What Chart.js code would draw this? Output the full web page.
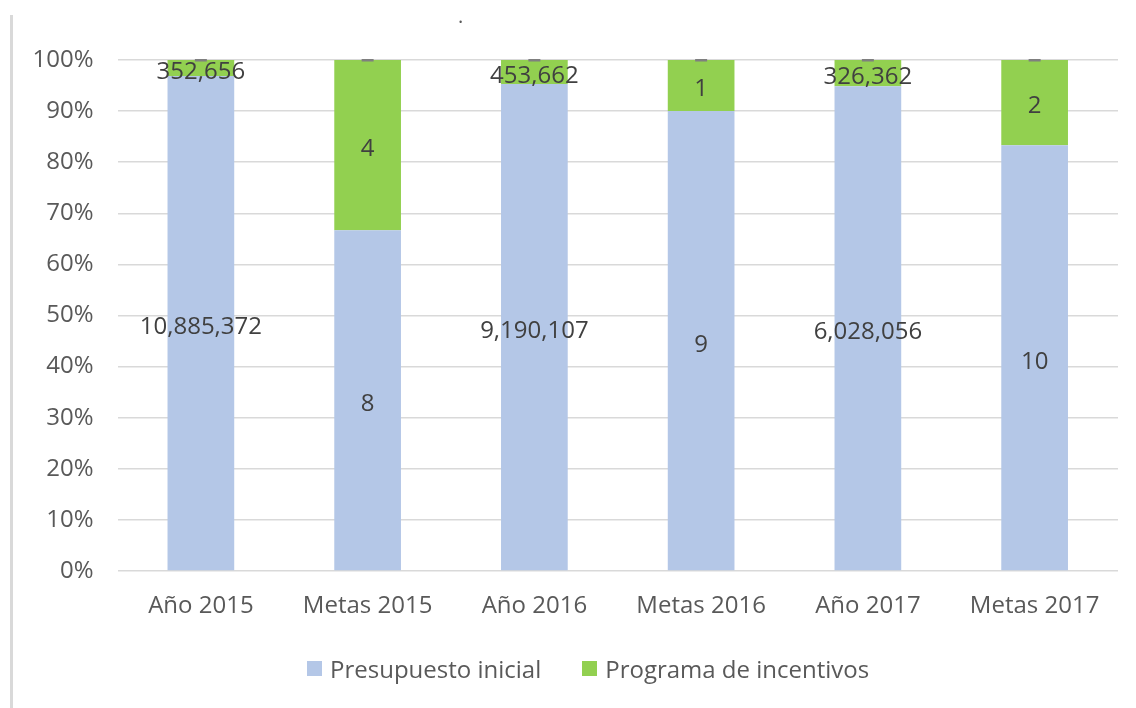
<!DOCTYPE html>
<html>
<head>
<meta charset="utf-8">
<script src="https://cdn.jsdelivr.net/npm/chart.js@4"></script>
<style>
  html, body { margin: 0; padding: 0; background: #fff; }
  #wrap { position: relative; width: 1136px; height: 708px; overflow: hidden; }
  #edge { position: absolute; left: 10px; top: 15px; width: 3px; height: 693px; background: #d9d9d9; }
  #title { position: absolute; left: 458px; top: 2px; font: 20px "Open Sans", sans-serif; color: #595959; }
  #legend { position: absolute; top: 652px; left: 307px; display: flex; gap: 41px;
            font: 24px "Open Sans", sans-serif; color: #595959; }
  #legend span.item { display: flex; align-items: center; }
  #legend i { display: inline-block; width: 15px; height: 15px; margin-right: 8px; }
  canvas { position: absolute; left: 0; top: 0; }
</style>
</head>
<body>
<div id="wrap">
  <canvas id="chart" width="1136" height="708"></canvas>
  <div id="edge"></div>
  <div id="title">.</div>
  <div id="legend"></div>
</div>
<script>
// Chart data
const categories = ['Año 2015', 'Metas 2015', 'Año 2016', 'Metas 2016', 'Año 2017', 'Metas 2017'];
const presupuesto = [10885372, 8, 9190107, 9, 6028056, 10];
const incentivos = [352656, 4, 453662, 1, 326362, 2];
const otros = [0, 0, 0, 0, 0, 0];
const yTicks = [0, 10, 20, 30, 40, 50, 60, 70, 80, 90, 100];

const seriesNames = ['Presupuesto inicial', 'Programa de incentivos'];
const seriesColors = ['#B4C7E7', '#92D050'];

// Convert to percentages of each column total
const totals = categories.map((c, i) => presupuesto[i] + incentivos[i] + otros[i]);
const pct = arr => arr.map((v, i) => v / totals[i] * 100);

const fmt = v => v === 0 ? '-' : v.toLocaleString('en-US');

// Draw value labels in the middle of each segment
const labelPlugin = {
    id: 'segmentLabels',
    afterDatasetsDraw(chart) {
        const ctx = chart.ctx;
        ctx.save();
        ctx.textAlign = 'center';
        ctx.textBaseline = 'middle';
        chart.data.datasets.forEach((ds, di) => {
            const meta = chart.getDatasetMeta(di);
            meta.data.forEach((bar, i) => {
                const raw = ds.rawValues[i];
                const y = (bar.y + bar.base) / 2;
                if (raw === 0) {
                    ctx.fillStyle = '#7f7f7f';
                    ctx.fillRect(bar.x - 6, y - 1, 12, 2.5);
                } else {
                    ctx.fillStyle = '#404040';
                    ctx.font = '24px "Open Sans", sans-serif';
                    ctx.fillText(fmt(raw), bar.x, y + 4);
                }
            });
        });
        ctx.restore();
    }
};

new Chart(document.getElementById('chart'), {
    type: 'bar',
    data: {
        labels: categories,
        datasets: [
            { label: seriesNames[0], data: pct(presupuesto), rawValues: presupuesto, backgroundColor: seriesColors[0] },
            { label: seriesNames[1], data: pct(incentivos), rawValues: incentivos, backgroundColor: seriesColors[1] },
            { label: 'otros', data: pct(otros), rawValues: otros, backgroundColor: '#7f7f7f' }
        ]
    },
    options: {
        responsive: false,
        animation: false,
        layout: { padding: { top: 60, right: 18, left: 0, bottom: 0 } },
        categoryPercentage: 1,
        barPercentage: 0.4,
        plugins: {
            legend: { display: false },
            tooltip: { enabled: false }
        },
        scales: {
            x: {
                stacked: true,
                grid: { display: false },
                border: { display: false },
                ticks: { color: '#595959', font: { size: 24, family: '"Open Sans", sans-serif' }, padding: 13 },
                afterFit: axis => { axis.height = 137; }
            },
            y: {
                stacked: true,
                min: 0,
                max: 100,
                afterBuildTicks: axis => { axis.ticks = yTicks.map(v => ({ value: v })); },
                grid: { color: '#d9d9d9', lineWidth: 1.5, drawTicks: false },
                border: { display: false },
                ticks: {
                    color: '#595959',
                    font: { size: 24, family: '"Open Sans", sans-serif' },
                    padding: 24,
                    callback: v => v + '%'
                },
                afterFit: axis => { axis.width = 117.5; }
            }
        }
    },
    plugins: [labelPlugin]
});

// HTML legend
const legend = document.getElementById('legend');
seriesNames.forEach((name, i) => {
    const item = document.createElement('span');
    item.className = 'item';
    item.innerHTML = `<i style="background:${seriesColors[i]}"></i>${name}`;
    legend.appendChild(item);
});
</script>
</body>
</html>
